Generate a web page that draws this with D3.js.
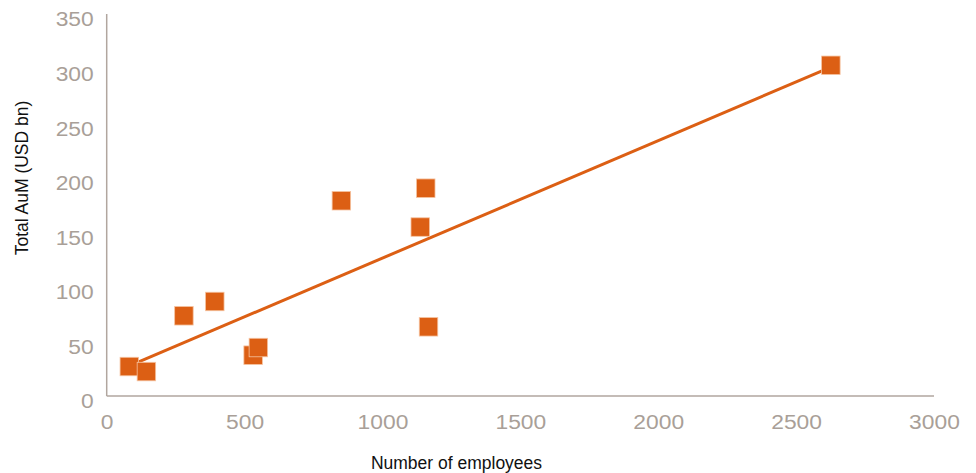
<!DOCTYPE html>
<html>
<head>
<meta charset="utf-8">
<script src="https://cdn.jsdelivr.net/npm/d3@7"></script>
<style>
  html, body { margin: 0; padding: 0; background: #ffffff; }
  svg { display: block; }
</style>
</head>
<body>
<svg id="chart" width="976" height="473"></svg>
<script>
// Data
const employees = [82, 144, 280, 392, 531, 550, 851, 1137, 1157, 1167, 2626];
const aum       = [27.0, 22.4, 73.5, 86.6, 37.4, 44.4, 178.9, 154.8, 190.4, 63.4, 303.0];
const trendEmployees = [82, 2626];
const trendAum       = [27.6, 301.3];
const xTicks = [0, 500, 1000, 1500, 2000, 2500, 3000];
const yTicks = [0, 50, 100, 150, 200, 250, 300, 350];
const xTitle = "Number of employees";
const yTitle = "Total AuM (USD bn)";

(function () {
const svg = d3.select("#chart");
const mLeft = 106.7, mRight = 934, mTop = 14, mBottom = 396;

const x = d3.scaleLinear().domain([0, 3000]).range([mLeft, mRight]);
const y = d3.scaleLinear().domain([0, 350]).range([mBottom, mTop]);

const axisColor = "#b1a69f";
const labelColor = "#a99f98";
const orange = "#dc5f14";
const fontFam = "Helvetica, Arial, 'Liberation Sans', sans-serif";
const stretch = 1.17;

// X axis
const gx = svg.append("g").attr("transform", `translate(0,${mBottom})`)
  .call(d3.axisBottom(x).tickValues(xTicks).tickSize(0).tickPadding(0).tickFormat(d3.format("d")));
gx.select(".domain").attr("stroke", axisColor).attr("stroke-width", 1.5).attr("d", `M${mLeft},0H${mRight}`);
gx.selectAll("text").attr("fill", labelColor).attr("font-size", 19.5).attr("font-family", fontFam)
  .attr("dy", null).attr("y", 33).attr("transform", `scale(${stretch},1)`);

// Y axis
const gy = svg.append("g").attr("transform", `translate(${mLeft},0)`)
  .call(d3.axisLeft(y).tickValues(yTicks).tickSize(0).tickPadding(13).tickFormat(d3.format("d")));
gy.select(".domain").attr("stroke", axisColor).attr("stroke-width", 1.5).attr("d", `M0,${mTop}V${mBottom}`);
gy.selectAll("text").attr("fill", labelColor).attr("font-size", 19.5).attr("font-family", fontFam)
  .attr("dy", "0.66em").attr("y", -1).attr("x", -13 / stretch).attr("transform", `scale(${stretch},1)`);

// Trend line
const line = d3.line().x(d => x(d[0])).y(d => y(d[1]));
svg.append("path")
  .datum(d3.zip(trendEmployees, trendAum))
  .attr("d", line)
  .attr("fill", "none")
  .attr("stroke", orange)
  .attr("stroke-width", 3);

// Points
const sz = 18.5;
svg.append("g").selectAll("rect")
  .data(d3.zip(employees, aum))
  .join("rect")
  .attr("x", d => x(d[0]) - sz / 2)
  .attr("y", d => y(d[1]) - sz / 2)
  .attr("width", sz)
  .attr("height", sz)
  .attr("fill", orange)
  .attr("stroke", "#f6c3a0")
  .attr("stroke-width", 0.8);

// Axis titles
svg.append("text")
  .attr("x", 456.5).attr("y", 469)
  .attr("text-anchor", "middle")
  .attr("font-family", fontFam).attr("font-size", 17.5).attr("fill", "#111")
  .text(xTitle);

svg.append("text")
  .attr("transform", `translate(28,178) rotate(-90)`)
  .attr("text-anchor", "middle")
  .attr("font-family", fontFam).attr("font-size", 17.5).attr("fill", "#111")
  .text(yTitle);
})();
</script>
</body>
</html>
